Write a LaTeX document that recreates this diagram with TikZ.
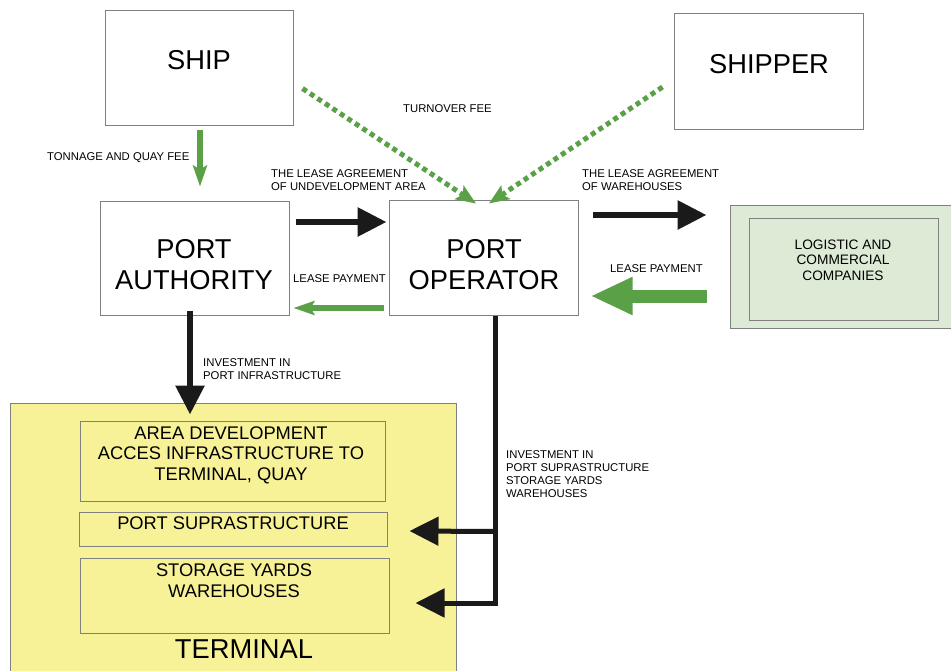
\documentclass[tikz,border=0pt]{standalone}
\usepackage{fontspec}
\setmainfont{Liberation Sans}
\usetikzlibrary{arrows.meta,calc}
\definecolor{vert}{RGB}{90,160,70}
\definecolor{vertclair}{RGB}{221,235,214}
\definecolor{jaune}{RGB}{247,241,151}
\definecolor{gris}{RGB}{128,128,128}
\definecolor{noir}{RGB}{26,26,26}
\begin{document}
\begin{tikzpicture}[x=1pt,y=-1pt,
    boite/.style={draw=gris,line width=1pt,inner sep=0pt},
    grand/.style={inner sep=0pt,align=center,font=\fontsize{27.3}{31}\selectfont},
    moyen/.style={inner sep=0pt,align=center,font=\fontsize{18.3}{20.5}\selectfont},
    petit/.style={inner sep=0pt,align=left,anchor=west,font=\fontsize{11.3}{13}\selectfont},
    fnoir/.style={draw=noir,line width=6pt,-{Triangle[length=29pt,width=28pt]}},
    fvert/.style={draw=vert,line width=5.5pt,-{Stealth[length=21pt,width=14pt,inset=4pt]}},
    fpoint/.style={draw=vert,line width=5pt,dash pattern=on 5pt off 4pt,-{Stealth[length=20pt,width=16pt,inset=4pt]}},
    fgros/.style={draw=vert,line width=13pt,-{Triangle[length=42pt,width=35pt]}}]
    \useasboundingbox (0,0) rectangle (951,670);
    % les acteurs
    \node[boite,minimum width=188pt,minimum height=115pt] (ship) at (199,67.5) {};
    \node[grand] (ship-t) at (199,60) {SHIP};
    \node[boite,minimum width=189pt,minimum height=116pt] (shipper) at (768.5,71) {};
    \node[grand] (shipper-t) at (769,64) {SHIPPER};
    \node[boite,minimum width=189pt,minimum height=114pt] (pa) at (194.5,258) {};
    \node[grand] (pa-t) at (194,264.5) {PORT\\AUTHORITY};
    \node[boite,minimum width=189pt,minimum height=115pt] (po) at (483.5,257.5) {};
    \node[grand] (po-t) at (484,265) {PORT\\OPERATOR};
    \node[boite,fill=vertclair,minimum width=230pt,minimum height=123pt] (logext) at (845,266.5) {};
    \node[boite,minimum width=189pt,minimum height=102pt] (log) at (843.5,269) {};
    \node[align=center,inner sep=0pt,font=\fontsize{13.7}{15.5}\selectfont] (log-t) at (843,260) {LOGISTIC AND\\COMMERCIAL\\COMPANIES};
    % le terminal
    \node[boite,fill=jaune,minimum width=446pt,minimum height=272pt] (term) at (233,539) {};
    \node[boite,minimum width=305pt,minimum height=80pt] (area) at (232.5,461) {};
    \node[moyen] (area-t) at (231,455) {AREA DEVELOPMENT\\ACCES INFRASTRUCTURE TO\\TERMINAL, QUAY};
    \node[boite,minimum width=308pt,minimum height=34pt] (supra) at (233,529) {};
    \node[moyen] (supra-t) at (233,523) {PORT SUPRASTRUCTURE};
    \node[boite,minimum width=309pt,minimum height=75pt] (store) at (234.5,595.5) {};
    \node[moyen] (store-t) at (234,580.5) {STORAGE YARDS\\WAREHOUSES};
    \node[grand] (term-t) at (244,649) {TERMINAL};
    % textes des fleches
    \node[petit] (tonnage) at (47,158) {TONNAGE AND QUAY FEE};
    \node[petit] (turnover) at (403,109) {TURNOVER FEE};
    \node[petit] (lease-a) at (271,180.5) {THE LEASE AGREEMENT\\OF UNDEVELOPMENT AREA};
    \node[petit] (pay-a) at (293,279) {LEASE PAYMENT};
    \node[petit] (lease-b) at (582,180.5) {THE LEASE AGREEMENT\\OF WAREHOUSES};
    \node[petit] (pay-b) at (610,269) {LEASE PAYMENT};
    \node[petit] (inv-a) at (203,369) {INVESTMENT IN\\PORT INFRASTRUCTURE};
    \node[petit] (inv-b) at (506,474.5) {INVESTMENT IN\\PORT SUPRASTRUCTURE\\STORAGE YARDS\\WAREHOUSES};
    % les fleches
    \draw[fvert] ($(ship.south)+(1,4)$) -- ($(pa.north)+(5.5,-14)$);
    \draw[fpoint] ($(ship.south east)+(9,-37)$) -- ($(po.north)+(-7.5,4)$);
    \draw[fpoint] ($(shipper.west)+(-11,16)$) -- ($(po.north)+(5.5,4)$);
    \draw[fnoir] ($(pa.east)+(6,-36)$) -- ($(po.west)+(-2,-35.5)$);
    \draw[fvert] ($(po.west)+(-5,50.5)$) -- ($(pa.east)+(4,50)$);
    \draw[fnoir] ($(po.east)+(14,-42.5)$) -- ($(logext.west)+(-23,-51.5)$);
    \draw[fgros] ($(logext.west)+(-23,29.5)$) -- ($(po.east)+(12,38.5)$);
    \draw[fnoir] ($(pa.south)+(-4.5,-5)$) -- ($(term.north)+(-43,12)$);
    \draw[fnoir,line width=5pt] ($(po.south)+(11.5,0)$) |- ($(store.east)+(26,7.5)$);
    \draw[fnoir,line width=5pt] ($(po.south)+(11.5,216)$) -- ($(supra.east)+(22,2)$);
\end{tikzpicture}
\end{document}
